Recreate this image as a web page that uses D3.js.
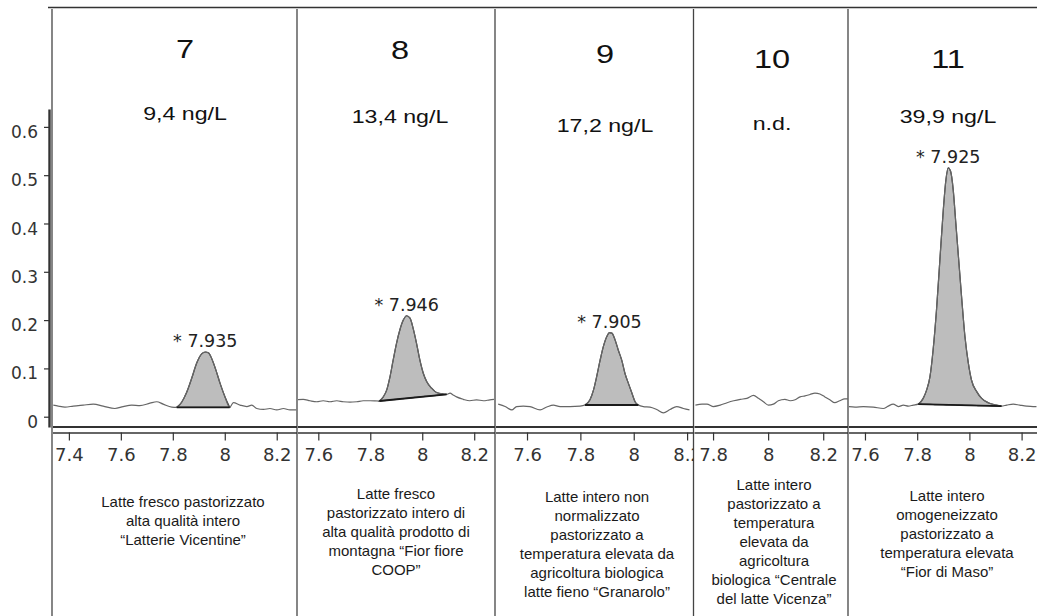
<!DOCTYPE html>
<html>
<head>
<meta charset="utf-8">
<script src="https://cdn.jsdelivr.net/npm/d3@7"></script>
<style>
  body { margin: 0; background: #fff; }
  svg { display: block; background: #fff; }
</style>
</head>
<body>
<svg width="1037" height="616"></svg>
<script>
// sample numbers, concentrations, peak retention times
const panelIds = ["7", "8", "9", "10", "11"];
const concentrations = ["9,4 ng/L", "13,4 ng/L", "17,2 ng/L", "n.d.", "39,9 ng/L"];
const peakLabels = ["* 7.935", "* 7.946", "* 7.905", null, "* 7.925"];
const xTicks = [7.4, 7.6, 7.8, 8, 8.2];
const yTicks = [0, 0.1, 0.2, 0.3, 0.4, 0.5, 0.6];
const xDomains = [[7.335, 8.278], [7.518, 8.280], [7.48, 8.224], [7.729, 8.29], [7.535, 8.259]];

const descriptions = [
  ["Latte fresco pastorizzato", "alta qualità intero", "“Latterie Vicentine”"],
  ["Latte fresco", "pastorizzato intero di", "alta qualità prodotto di", "montagna “Fior fiore", "COOP”"],
  ["Latte intero non", "normalizzato", "pastorizzato a", "temperatura elevata da", "agricoltura biologica", "latte fieno “Granarolo”"],
  ["Latte intero", "pastorizzato a", "temperatura", "elevata da", "agricoltura", "biologica “Centrale", "del latte Vicenza”"],
  ["Latte intero", "omogeneizzato", "pastorizzato a", "temperatura elevata", "“Fior di Maso”"]
];

// chromatogram traces: [retention time (min), signal]
const trace7 = [[7.340,0.024],[7.359,0.022],[7.385,0.020],[7.417,0.022],[7.455,0.024],[7.494,0.026],[7.532,0.022],[7.577,0.017],[7.609,0.021],[7.642,0.024],[7.673,0.023],[7.712,0.028],[7.738,0.031],[7.763,0.026],[7.796,0.020],[7.815,0.0195],[7.834,0.030],[7.853,0.050],[7.873,0.080],[7.892,0.111],[7.911,0.130],[7.925,0.134],[7.938,0.132],[7.950,0.120],[7.965,0.098],[7.982,0.069],[8.001,0.041],[8.019,0.0195],[8.033,0.029],[8.059,0.024],[8.085,0.021],[8.104,0.024],[8.123,0.017],[8.149,0.015],[8.174,0.017],[8.200,0.014],[8.226,0.017],[8.251,0.014],[8.275,0.014]];
const trace8 = [[7.517,0.035],[7.542,0.036],[7.568,0.033],[7.594,0.031],[7.619,0.033],[7.645,0.031],[7.671,0.033],[7.696,0.031],[7.722,0.030],[7.748,0.031],[7.773,0.033],[7.799,0.033],[7.835,0.0325],[7.850,0.041],[7.863,0.055],[7.876,0.083],[7.888,0.117],[7.901,0.152],[7.914,0.180],[7.927,0.200],[7.940,0.209],[7.953,0.204],[7.965,0.183],[7.978,0.152],[7.991,0.117],[8.004,0.090],[8.017,0.073],[8.036,0.059],[8.055,0.050],[8.081,0.047],[8.094,0.0464],[8.107,0.049],[8.119,0.045],[8.132,0.041],[8.158,0.036],[8.183,0.033],[8.209,0.035],[8.235,0.033],[8.260,0.035],[8.276,0.036]];
const trace9 = [[7.492,0.026],[7.518,0.021],[7.543,0.014],[7.561,0.021],[7.586,0.022],[7.611,0.021],[7.649,0.014],[7.674,0.020],[7.699,0.024],[7.724,0.021],[7.761,0.021],[7.799,0.022],[7.817,0.0242],[7.836,0.035],[7.849,0.055],[7.861,0.083],[7.874,0.117],[7.886,0.145],[7.899,0.166],[7.909,0.174],[7.918,0.173],[7.930,0.159],[7.942,0.138],[7.955,0.117],[7.967,0.090],[7.980,0.069],[7.993,0.049],[8.005,0.031],[8.017,0.0242],[8.036,0.021],[8.061,0.020],[8.086,0.015],[8.111,0.008],[8.136,0.015],[8.161,0.021],[8.186,0.017],[8.209,0.014]];
const trace10 = [[7.736,0.024],[7.760,0.026],[7.778,0.026],[7.800,0.021],[7.826,0.024],[7.851,0.029],[7.875,0.033],[7.899,0.036],[7.923,0.038],[7.947,0.044],[7.965,0.038],[7.983,0.031],[8.001,0.024],[8.019,0.026],[8.037,0.033],[8.061,0.036],[8.080,0.033],[8.098,0.035],[8.116,0.041],[8.134,0.043],[8.152,0.046],[8.170,0.049],[8.188,0.047],[8.206,0.041],[8.224,0.035],[8.242,0.029],[8.260,0.033],[8.278,0.037],[8.290,0.037]];
const trace11 = [[7.536,0.021],[7.562,0.020],[7.594,0.021],[7.632,0.020],[7.670,0.017],[7.689,0.022],[7.708,0.026],[7.728,0.021],[7.747,0.024],[7.766,0.022],[7.785,0.024],[7.804,0.026],[7.823,0.038],[7.836,0.055],[7.849,0.083],[7.861,0.138],[7.874,0.221],[7.887,0.325],[7.900,0.428],[7.910,0.490],[7.919,0.515],[7.928,0.508],[7.938,0.470],[7.948,0.401],[7.959,0.325],[7.970,0.249],[7.983,0.166],[7.996,0.111],[8.008,0.076],[8.028,0.052],[8.047,0.038],[8.072,0.029],[8.104,0.024],[8.123,0.022],[8.143,0.024],[8.168,0.026],[8.193,0.024],[8.219,0.022],[8.244,0.021],[8.257,0.021]];
const traces = [trace7, trace8, trace9, trace10, trace11];

// integration baselines under each peak: [start, end]
const integrations = [
  [[7.815, 0.0195], [8.019, 0.0195]],
  [[7.835, 0.0325], [8.094, 0.0464]],
  [[7.817, 0.0242], [8.017, 0.0242]],
  null,
  [[7.804, 0.026], [8.123, 0.022]]
];

// layout
const edges = [52, 297, 495, 693.5, 848, 1037];
const titleX = [185, 400, 605, 772, 948];
const titleY = [58, 59, 62.5, 68, 68];
const concY = [120, 123, 131.5, 130, 123];
const descX = [183, 396, 597, 774, 947];
const descY = [507, 498.5, 501.5, 490, 501];
const chartFont = "'DejaVu Sans', Verdana, sans-serif";
const textFont = "'Liberation Sans', Arial, sans-serif";

const svg = d3.select("svg");
const defs = svg.append("defs");

const y = d3.scaleLinear().domain([-0.0213, 0.637]).range([427, 109]);

// frame lines
svg.append("line")
  .attr("x1", 48).attr("x2", 1037).attr("y1", 7.5).attr("y2", 7.5)
  .attr("stroke", "#333").attr("stroke-width", 1.5);

svg.selectAll(".border")
  .data(edges.slice(0, 5))
  .enter().append("line")
  .attr("class", "border")
  .attr("x1", d => d).attr("x2", d => d)
  .attr("y1", 9).attr("y2", 616)
  .attr("stroke", "#444").attr("stroke-width", 1.3);

// y axis
const yAxis = svg.append("g")
  .attr("transform", "translate(49,0)")
  .call(d3.axisLeft(y).tickValues(yTicks).tickSize(5).tickSizeOuter(0).tickPadding(6).tickFormat(d3.format("~g")));
yAxis.select(".domain").attr("stroke", "#333").attr("stroke-width", 2.4);
yAxis.selectAll(".tick line").attr("stroke", "#333").attr("stroke-width", 1.2);
yAxis.selectAll(".tick text")
  .attr("dy", "0.62em")
  .style("font", "17px " + chartFont)
  .attr("fill", "#333");

panelIds.forEach((id, i) => {
  const x0 = edges[i], x1 = edges[i + 1];
  const x = d3.scaleLinear().domain(xDomains[i]).range([x0, x1]);
  const data = traces[i];

  defs.append("clipPath").attr("id", "clip" + i)
    .append("rect").attr("x", x0 + 1).attr("y", 0).attr("width", x1 - x0 - 1).attr("height", 616);

  const g = svg.append("g").attr("clip-path", "url(#clip" + i + ")");

  // shaded peak
  const integ = integrations[i];
  if (integ) {
    const [s, e] = integ;
    const base = d3.scaleLinear().domain([s[0], e[0]]).range([s[1], e[1]]);
    const peak = data.filter(d => d[0] >= s[0] && d[0] <= e[0]);
    const area = d3.area()
      .curve(d3.curveMonotoneX)
      .x(d => x(d[0]))
      .y0(d => y(base(d[0])))
      .y1(d => y(d[1]));
    g.append("path")
      .datum(peak)
      .attr("d", area)
      .attr("fill", "#bdbdbd")
      .attr("stroke", "#3a3a3a")
      .attr("stroke-width", 1.2);
  }

  const line = d3.line()
    .curve(d3.curveMonotoneX)
    .x(d => x(d[0]))
    .y(d => y(d[1]));

  g.append("path")
    .datum(data)
    .attr("d", line)
    .attr("fill", "none")
    .attr("stroke", "#666")
    .attr("stroke-width", 1.2);

  if (integ) {
    g.append("line")
      .attr("x1", x(integ[0][0])).attr("y1", y(integ[0][1]))
      .attr("x2", x(integ[1][0])).attr("y2", y(integ[1][1]))
      .attr("stroke", "#1a1a1a").attr("stroke-width", 1.8);
  }

  // peak label over apex
  if (peakLabels[i]) {
    const apex = data.reduce((a, b) => (b[1] > a[1] ? b : a));
    g.append("text")
      .attr("x", x(apex[0]))
      .attr("y", y(apex[1]) - 5)
      .attr("text-anchor", "middle")
      .style("font", "17.5px " + chartFont)
      .attr("fill", "#222")
      .text(peakLabels[i]);
  }

  // x axis: double rule
  g.append("line")
    .attr("x1", i === 0 ? 49 : x0).attr("x2", x1)
    .attr("y1", 427).attr("y2", 427)
    .attr("stroke", "#333").attr("stroke-width", 2);

  const [d0, d1] = xDomains[i];
  const xAxis = g.append("g")
    .attr("transform", "translate(0,432.5)")
    .call(d3.axisBottom(x)
      .tickValues(xTicks.filter(t => t >= d0 && t <= d1))
      .tickSize(8).tickSizeOuter(0).tickPadding(8)
      .tickFormat(d3.format("~g")));
  xAxis.select(".domain").attr("stroke", "#333").attr("stroke-width", 1.5);
  xAxis.selectAll(".tick line").attr("stroke", "#333").attr("stroke-width", 1.2);
  xAxis.selectAll(".tick text")
    .style("font", "18px " + chartFont)
    .attr("fill", "#333");

  // headings
  svg.append("text")
    .attr("transform", "translate(" + titleX[i] + "," + titleY[i] + ") scale(1.25,1)")
    .attr("text-anchor", "middle")
    .style("font", "26px " + textFont)
    .attr("fill", "#111")
    .text(id);

  svg.append("text")
    .attr("transform", "translate(" + titleX[i] + "," + concY[i] + ") scale(1.22,1)")
    .attr("text-anchor", "middle")
    .style("font", "19px " + textFont)
    .attr("fill", "#111")
    .text(concentrations[i]);

  // sample description
  const desc = svg.append("text")
    .attr("text-anchor", "middle")
    .style("font", "15px " + textFont)
    .attr("fill", "#1a1a1a");
  desc.selectAll("tspan")
    .data(descriptions[i])
    .enter().append("tspan")
    .attr("x", descX[i])
    .attr("y", (d, k) => descY[i] + k * 19)
    .text(d => d);
});
</script>
</body>
</html>
